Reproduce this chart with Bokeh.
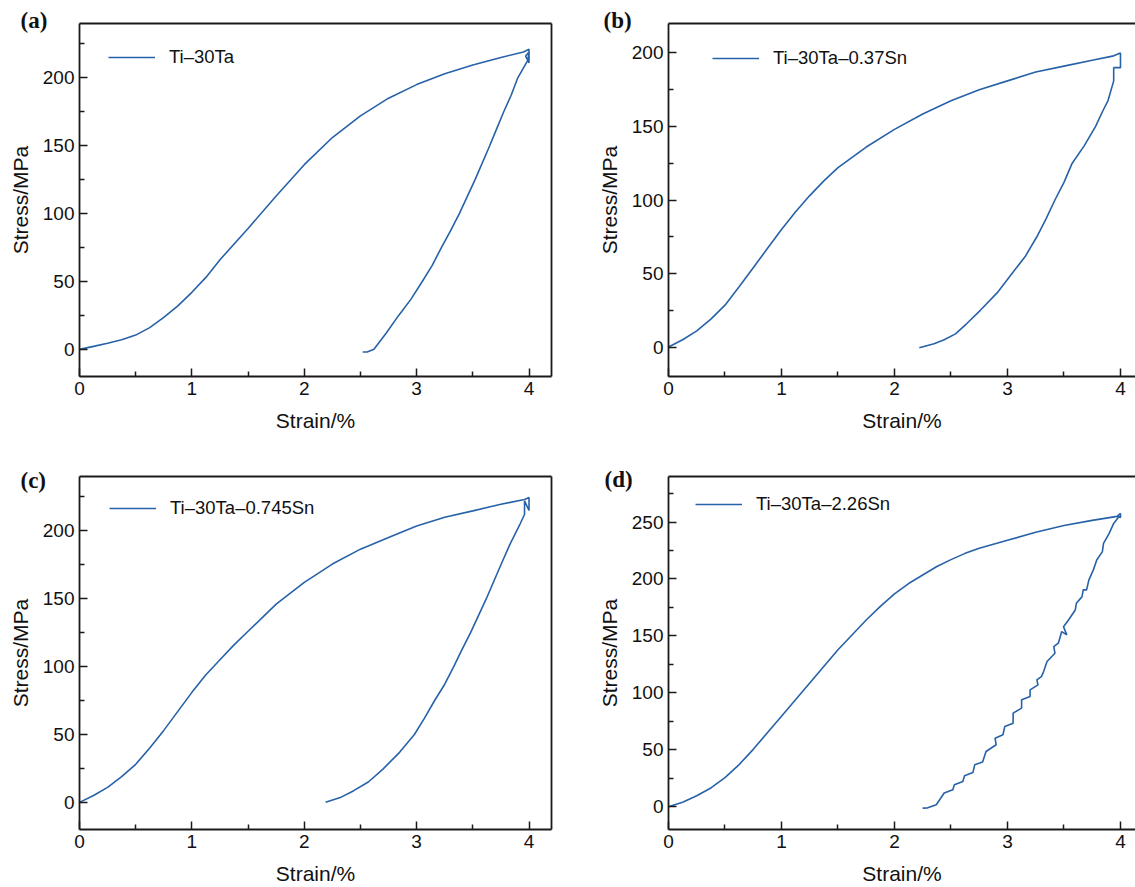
from bokeh.plotting import figure
from bokeh.models import Range1d, FixedTicker, LinearAxis, Legend, LegendItem
from bokeh.layouts import column, row
from bokeh.embed import file_html
from bokeh.resources import INLINE

# ---------------- data ----------------
# (a) Ti-30Ta
a_load_x = [0, 0.125, 0.25, 0.375, 0.5, 0.625, 0.75, 0.875, 1.0, 1.125, 1.25, 1.5, 1.75, 2.0,
            2.25, 2.5, 2.75, 3.0, 3.25, 3.5, 3.75, 3.95]
a_load_y = [0, 2.2, 4.5, 7, 10.5, 16, 23.5, 32, 42, 53, 66, 89, 113, 136,
            156, 172, 185, 195, 203, 209.5, 215, 219]
a_top_x = [4.0, 4.0, 3.97, 4.0, 3.99]
a_top_y = [221, 211, 216, 219, 213]
a_unload_x = [3.90, 3.84, 3.775, 3.71, 3.65, 3.52, 3.38, 3.30, 3.22, 3.14, 3.05, 2.95, 2.84, 2.73, 2.62, 2.56, 2.52]
a_unload_y = [200, 187, 175, 162, 150, 125, 100, 87, 75, 62, 50, 37, 25, 12, 0, -2, -2]

# (b) Ti-30Ta-0.37Sn
b_load_x = [0, 0.125, 0.25, 0.375, 0.5, 0.625, 0.75, 0.875, 1.0, 1.125, 1.25, 1.375, 1.5, 1.75,
            2.0, 2.25, 2.5, 2.75, 3.0, 3.25, 3.5, 3.75]
b_load_y = [0, 5, 11, 19, 28.5, 41, 54, 67, 80, 92, 103, 113, 122, 136,
            148, 158.5, 167.5, 175, 181, 187, 191, 195]
b_top_x = [3.94, 4.0, 4.0, 3.94, 3.94]
b_top_y = [198, 200, 190, 190, 181]
b_unload_x = [3.89, 3.84, 3.78, 3.68, 3.57, 3.50, 3.42, 3.34, 3.26, 3.16, 3.04, 2.91, 2.76, 2.64,
              2.54, 2.44, 2.35, 2.22]
b_unload_y = [167.6, 160, 150, 137, 124.6, 112, 100, 87, 75, 62, 50, 37, 25, 16,
              9, 5, 2.3, -0.5]

# (c) Ti-30Ta-0.745Sn
c_load_x = [0, 0.125, 0.25, 0.375, 0.5, 0.625, 0.75, 0.875, 1.0, 1.125, 1.25, 1.375, 1.5, 1.75,
            2.0, 2.25, 2.5, 2.75, 3.0, 3.25, 3.5, 3.75, 3.96]
c_load_y = [0, 5, 11, 19, 28, 40, 53, 67, 81, 94, 105, 116, 126, 146,
            162, 175.5, 186.5, 195, 203.5, 210, 214.7, 219.6, 223]
c_top_x = [4.0, 4.0, 3.96, 3.96]
c_top_y = [224.5, 215, 222, 212]
c_unload_x = [3.92, 3.83, 3.75, 3.62, 3.48, 3.40, 3.33, 3.25, 3.16, 3.07, 2.98, 2.85, 2.70, 2.57,
              2.44, 2.32, 2.19]
c_unload_y = [205, 190, 175, 150, 125, 112, 100, 87, 75, 62, 50, 37, 24.5, 15,
              8.6, 3.5, 0]

# (d) Ti-30Ta-2.26Sn
d_load_x = [0, 0.125, 0.25, 0.375, 0.5, 0.625, 0.75, 0.875, 1.0, 1.25, 1.5, 1.75, 1.875, 2.0,
            2.125, 2.25, 2.375, 2.5, 2.625, 2.75, 3.0, 3.25, 3.5, 3.75, 3.97]
d_load_y = [0, 4, 9.6, 16.5, 25.6, 37, 50.4, 65, 79.5, 108.7, 137.8, 164, 176, 187,
            196, 203.5, 211, 217, 222.5, 227, 234, 241, 247, 251.5, 255]
d_top_x = [4.0, 4.0]
d_top_y = [257.6, 254]
d_unload_x = [3.985, 3.94, 3.90, 3.85, 3.84, 3.79, 3.76, 3.72, 3.70, 3.67, 3.66, 3.61, 3.60,
              3.54, 3.496, 3.525, 3.48, 3.45, 3.41, 3.42, 3.35, 3.32, 3.30, 3.26, 3.27, 3.20,
              3.20, 3.125, 3.125, 3.05, 3.05, 2.976, 2.96, 2.89, 2.90, 2.81, 2.78, 2.71, 2.694,
              2.62, 2.605, 2.53, 2.516, 2.44, 2.41, 2.37, 2.294, 2.249]
d_unload_y = [254.6, 248.8, 240, 231.3, 224, 216.7, 208, 199, 190.4, 190.4, 184.5, 178.7, 172.8,
              164, 158, 150.9, 153.8, 143.6, 140.6, 134.8, 127.5, 118.7, 114.3, 111.4, 107, 102.6,
              96.8, 93.9, 86.6, 82.2, 73.4, 70.4, 63.2, 60.2, 54.4, 48.5, 39.2, 36.8, 30,
              27.2, 22.2, 19.3, 14.9, 12, 7.6, 1.8, -1, -1.2]

labels = ["Ti\u201330Ta", "Ti\u201330Ta\u20130.37Sn", "Ti\u201330Ta\u20130.745Sn", "Ti\u201330Ta\u20132.26Sn"]
tags = ["(a)", "(b)", "(c)", "(d)"]
x_major = [0, 1, 2, 3, 4]
x_minor = [0.5, 1.5, 2.5, 3.5]

LINE_COLOR = "#2762a8"
AXIS_COLOR = "#1a1a1a"
SANS = "Liberation Sans"


def join(*parts):
    out = []
    for part in parts:
        out.extend(part)
    return out


def make_panel(xs, ys, name, tag, xend, ytop, ymajor, yminor, width, height,
               bl, br, bt, bb, right_border, legend_pos, tag_offset, tag_standoff):
    p = figure(width=width, height=height, x_range=Range1d(0, xend), y_range=Range1d(-20, ytop),
               output_backend="svg", toolbar_location=None, min_border=0,
               min_border_left=bl, min_border_right=br, min_border_top=bt, min_border_bottom=bb)
    p.outline_line_color = None
    p.xgrid.visible = False
    p.ygrid.visible = False
    p.background_fill_color = "white"
    p.border_fill_color = "white"

    for ax in (p.xaxis[0], p.yaxis[0]):
        ax.axis_line_color = AXIS_COLOR
        ax.axis_line_width = 1.8
        ax.major_tick_line_color = AXIS_COLOR
        ax.minor_tick_line_color = AXIS_COLOR
        ax.major_tick_line_width = 1.5
        ax.minor_tick_line_width = 1.5
        ax.major_tick_in = 8
        ax.major_tick_out = 0
        ax.minor_tick_in = 5
        ax.minor_tick_out = 0
        ax.major_label_text_font = SANS
        ax.major_label_text_font_size = "19px"
        ax.major_label_text_color = "#111111"
        ax.axis_label_text_font = SANS
        ax.axis_label_text_font_size = "21px"
        ax.axis_label_text_font_style = "normal"
        ax.axis_label_text_color = "#111111"
        ax.major_label_standoff = 5

    p.xaxis[0].ticker = FixedTicker(ticks=x_major, minor_ticks=x_minor)
    p.yaxis[0].ticker = FixedTicker(ticks=ymajor, minor_ticks=yminor)
    p.xaxis[0].axis_label = "Strain/%"
    p.yaxis[0].axis_label = "Stress/MPa"
    p.xaxis[0].axis_label_standoff = 11
    p.yaxis[0].axis_label_standoff = 8

    def border_axis(place):
        a = LinearAxis(ticker=FixedTicker(ticks=[]), major_tick_in=0, major_tick_out=0,
                       minor_tick_in=0, minor_tick_out=0, major_label_standoff=0,
                       axis_label_standoff=0, major_label_text_font_size="0px",
                       axis_line_color=AXIS_COLOR, axis_line_width=1.8)
        p.add_layout(a, place)

    border_axis("above")
    if right_border:
        border_axis("right")

    # panel tag "(a)" etc. as the figure title, pulled into the top-left corner
    p.title.text = tag
    p.title.text_font = "Liberation Serif"
    p.title.text_font_style = "bold"
    p.title.text_font_size = "23px"
    p.title.text_color = "#111111"
    p.title.align = "left"
    p.title.vertical_align = "bottom"
    p.title.offset = tag_offset
    p.title.standoff = tag_standoff

    r = p.line(xs, ys, line_color=LINE_COLOR, line_width=1.6)

    legend = Legend(items=[LegendItem(label=name, renderers=[r])], location=legend_pos,
                    margin=0, padding=0, spacing=0, glyph_width=47, glyph_height=20,
                    label_height=20, label_standoff=14,
                    label_text_font=SANS, label_text_font_size="18.5px",
                    label_text_color="#111111",
                    background_fill_alpha=0, border_line_color=None)
    p.add_layout(legend)
    return p


pa = make_panel(join(a_load_x, a_top_x, a_unload_x), join(a_load_y, a_top_y, a_unload_y),
                labels[0], tags[0], 4.2, 240, [0, 50, 100, 150, 200], [25, 75, 125, 175, 225],
                590, 437, 79, 39, 23, 61, True, (29, 353 - 35 - 10), -59, -19)
pb = make_panel(join(b_load_x, b_top_x, b_unload_x), join(b_load_y, b_top_y, b_unload_y),
                labels[1], tags[1], 4.133, 220, [0, 50, 100, 150, 200], [25, 75, 125, 175],
                545, 437, 78, 0, 23, 61, False, (44, 353 - 36 - 10), -65, -19)
pc = make_panel(join(c_load_x, c_top_x, c_unload_x), join(c_load_y, c_top_y, c_unload_y),
                labels[2], tags[2], 4.2, 240, [0, 50, 100, 150, 200], [25, 75, 125, 175, 225],
                590, 450, 79, 39, 38, 58, True, (30, 354 - 34 - 10), -59, -32)
pd = make_panel(join(d_load_x, d_top_x, d_unload_x), join(d_load_y, d_top_y, d_unload_y),
                labels[3], tags[3], 4.133, 290, [0, 50, 100, 150, 200, 250], [25, 75, 125, 175, 225, 275],
                545, 450, 78, 0, 39, 57, False, (27, 354 - 30 - 10), -64, -31)

layout = column(row(pa, pb, spacing=0), row(pc, pd, spacing=0), spacing=0)

open("out.html", "w").write(file_html(layout, INLINE))
